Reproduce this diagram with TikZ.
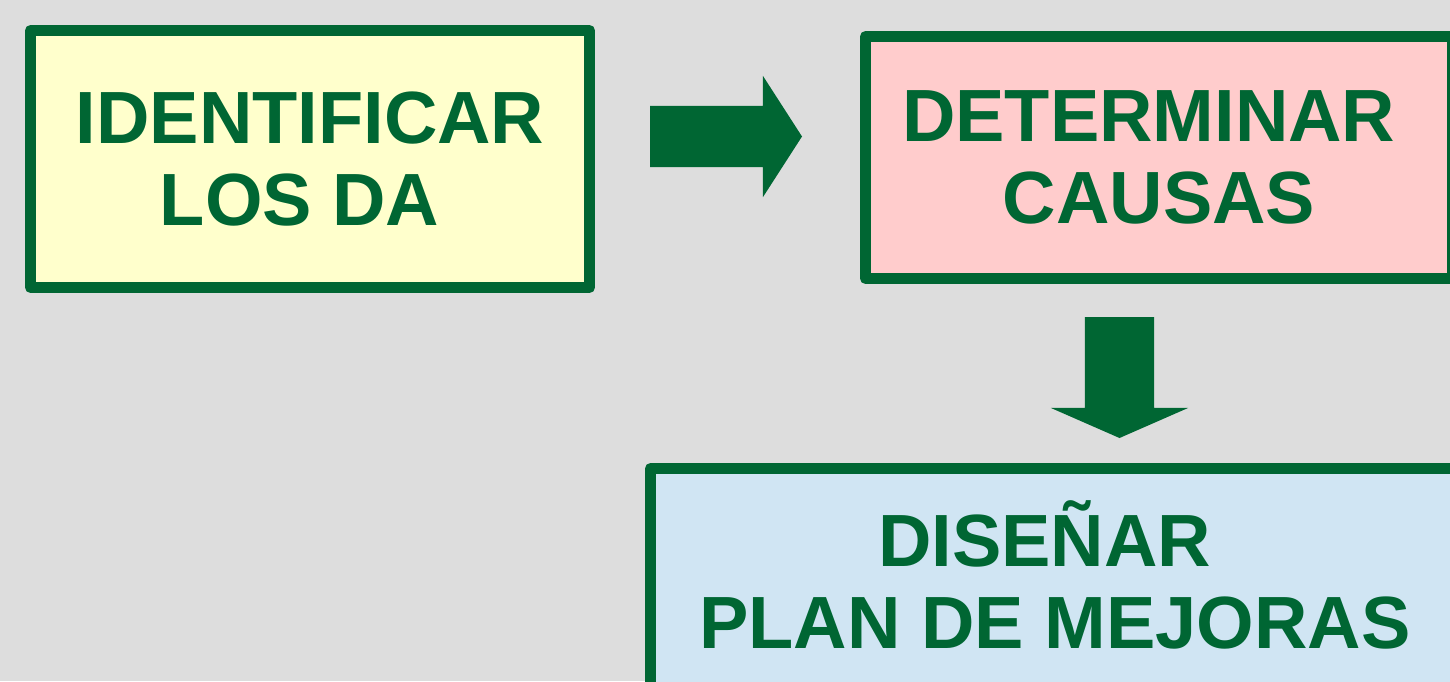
\documentclass[tikz,border=0pt]{standalone}
\usepackage{fontspec}
\setmainfont{Liberation Sans}
\usetikzlibrary{
  positioning,
  shapes.arrows,
}
\definecolor{verde}{HTML}{006633}
\definecolor{fondo}{HTML}{DDDDDD}
\definecolor{amarillo}{HTML}{FFFFCC}
\definecolor{rosa}{HTML}{FFCCCC}
\definecolor{celeste}{HTML}{D0E5F3}
\tikzset{
  caja/.style={draw=verde, line width=11pt, line join=round, inner sep=0pt,
    align=center, text=verde, font=\fontsize{74}{82}\selectfont\bfseries},
  flecha/.style={single arrow, fill=verde, draw=none, outer sep=0pt,
    single arrow head indent=0pt},
}

\begin{document}
\begin{tikzpicture}[x=1pt, y=-1pt]
      \clip (0, 0) rectangle (1450, 681);
      \fill [fondo] (0, 0) rectangle (1450, 681);

      \node [caja, fill=amarillo, minimum width=559pt, minimum height=257pt] (identificar) at (310, 159)
        {IDENTIFICAR\\LOS DA\hspace*{20.6pt}};
      \node [caja, fill=rosa, minimum width=587pt, minimum height=242pt] (causas) at (1159, 157.5)
        {DETERMINAR\hspace*{20.6pt}\\CAUSAS};
      \node [caja, fill=celeste, minimum width=809pt, minimum height=253pt, text depth=40pt] (mejoras) at (1055, 595)
        {DISEÑAR\hspace*{20.6pt}\\PLAN DE MEJORAS};

      % flechas de bloque
      \node [flecha, anchor=tail, inner sep=30.5pt, minimum height=152pt,
        single arrow head extend=30pt, single arrow tip angle=114.4] (paso1) at (650, 136.5) {};
      \node [flecha, anchor=tail, shape border rotate=270, inner sep=34.5pt, minimum height=121pt,
        single arrow head extend=34pt, single arrow tip angle=132.7] (paso2) at (1119.5, 317) {};
    \end{tikzpicture}
\end{document}
